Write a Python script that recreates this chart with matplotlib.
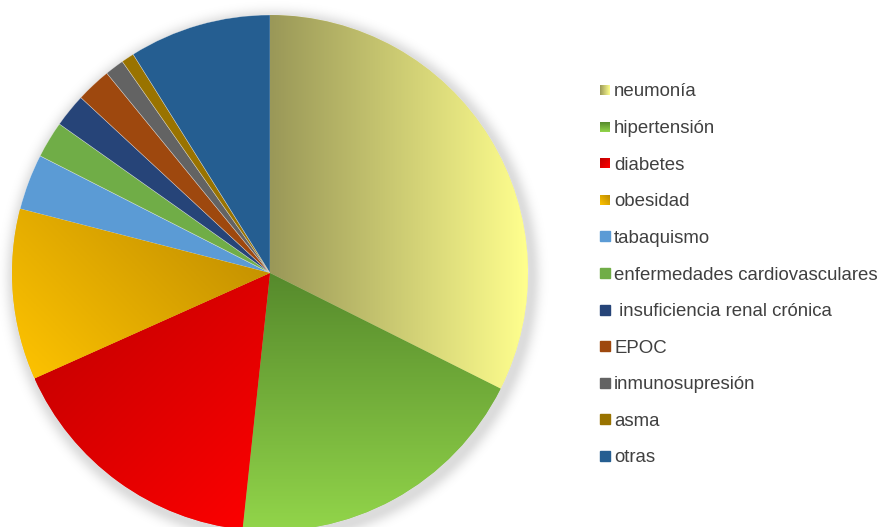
import numpy as np
import matplotlib
matplotlib.use("Agg")
import matplotlib.pyplot as plt
from matplotlib.colors import LinearSegmentedColormap

plt.rcParams['font.family'] = ['Liberation Sans', 'DejaVu Sans']

categorias = ["neumonía", "hipertensión", "diabetes", "obesidad", "tabaquismo",
              "enfermedades cardiovasculares", " insuficiencia renal crónica",
              "EPOC", "inmunosupresión", "asma", "otras"]
porcentajes = [32.4, 19.3, 16.6, 10.7, 3.5, 2.3, 2.1, 2.2, 1.2, 0.8, 8.9]

colores = ["#D8D47A", "#70A83C", "#E00000", "#E0A800", "#5B9BD5", "#70AD47",
           "#264478", "#9E480E", "#636363", "#997300", "#255E91"]
# gradients: (start colour, end colour, direction in image coords (dx, dy-down))
degradados = {
    0: ("#9A9858", "#FFFF8E", (1, 0)),
    1: ("#568A2C", "#92D54A", (0, 1)),
    2: ("#BE0000", "#FF0000", (1, 1)),
    3: ("#BC8A00", "#FFC400", (-1, 1)),
}

W, H = 880, 527
cx, cy, r = 270, 254, 258

fig = plt.figure(figsize=(W / 100, H / 100), dpi=100)
ax = fig.add_axes([0, 0, 1, 1])

# soft shadow around the pie
yy, xx = np.mgrid[0:H, 0:W]
d = np.hypot(xx + 0.5 - (cx + 3), yy + 0.5 - (cy - 4))
alpha = np.where(d <= r, 0.14, 0.14 * np.exp(-((d - r) / 9.5) ** 2))
sombra = np.zeros((H, W, 4))
sombra[..., 3] = alpha
ax.imshow(sombra, extent=[0, W, 0, H], origin='lower', zorder=0, interpolation='bilinear')

wedges, _ = ax.pie(porcentajes, colors=colores, startangle=90, counterclock=False,
                   center=(cx, cy), radius=r,
                   wedgeprops=dict(linewidth=0.4, edgecolor=(1, 1, 1, 0.5)))
for w in wedges:
    w.set_zorder(2)


def gradiente(ax, patch, c0, c1, direc, extent, zorder):
    x0, x1, y0, y1 = extent
    gx, gy = np.meshgrid(np.linspace(x0, x1, 200), np.linspace(y0, y1, 200))
    dx, dy = direc
    t = gx * dx - gy * dy  # dy points down in image coordinates
    t = (t - t.min()) / (t.max() - t.min())
    cmap = LinearSegmentedColormap.from_list("g", [c0, c1])
    im = ax.imshow(t, extent=extent, origin='lower', cmap=cmap, zorder=zorder,
                   interpolation='bilinear', aspect='auto')
    im.set_clip_path(patch)
    return im


for i, (c0, c1, direc) in degradados.items():
    bb = wedges[i].get_path().get_extents()
    gradiente(ax, wedges[i], c0, c1, direc, [bb.x0, bb.x1, bb.y0, bb.y1], 3)

# legend
ley_x, ley_y0, paso = 600, H - 90, 36.6
for i, nombre in enumerate(categorias):
    yc = ley_y0 - i * paso
    ext = [ley_x, ley_x + 10, yc - 5, yc + 5]
    if i in degradados:
        c0, c1, direc = degradados[i]
        caja = plt.Rectangle((ext[0], ext[2]), 10, 10, transform=ax.transData)
        gradiente(ax, caja, c0, c1, direc, ext, 4)
    else:
        ax.add_patch(plt.Rectangle((ext[0], ext[2]), 10, 10, color=colores[i], zorder=4))
    ax.text(ley_x + 14, yc, nombre, fontsize=13.45, color="#404040", va='center_baseline',
            ha='left', zorder=5)

ax.set_xlim(0, W)
ax.set_ylim(0, H)
ax.set_aspect('equal')
ax.axis('off')

fig.savefig("out.png", dpi=100)
